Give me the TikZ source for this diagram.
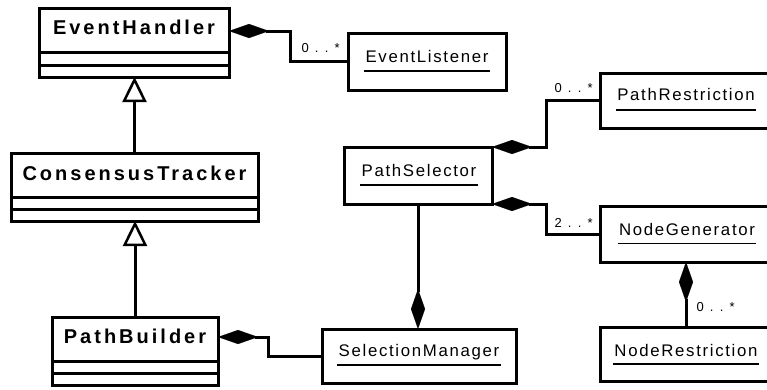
\documentclass[tikz,border=0pt]{standalone}
\usepackage{fontspec}
\setmainfont{Liberation Sans}
\newfontfamily\clsfont[LetterSpace=15]{Liberation Sans}
\newfontfamily\namefont[LetterSpace=10]{Liberation Sans}
\newfontfamily\multfont[LetterSpace=48]{Liberation Sans}
\usetikzlibrary{arrows.meta,calc}
\begin{document}
\begin{tikzpicture}[x=1pt,y=-1pt,line width=3pt,
  box/.style={draw,rectangle,inner sep=0pt,outer sep=0pt,line width=3pt,fill=white},
  bname/.style={anchor=base,inner sep=0pt,font={\clsfont\bfseries\fontsize{20}{23}\selectfont}},
  uname/.style={anchor=base,inner sep=0pt,font={\namefont\fontsize{16.8}{19}\selectfont}},
  mult/.style={anchor=base west,inner sep=0pt,font={\multfont\fontsize{13}{15}\selectfont}},
  comp/.style={{Diamond[length=40pt,width=14pt,line width=0.1pt]}-},
  compend/.style={-{Diamond[length=40pt,width=14pt,line width=0.1pt]}},
  gen/.style={-{Triangle[length=25pt,width=24pt,fill=white,line width=2.5pt]}},
  uline/.style={line width=1.5pt}]
\clip (0,0) rectangle (767,389);
\fill[white] (0,0) rectangle (767,389);

% class boxes with compartments
\node[box,minimum width=190pt,minimum height=69pt] (eh) at (134,42.5) {};
\draw (eh.west |- 0,52) -- (eh.east |- 0,52);
\draw (eh.west |- 0,65) -- (eh.east |- 0,65);
\node[bname] (ehn) at (134,34.5) {EventHandler};

\node[box,minimum width=247pt,minimum height=68pt] (ct) at (134.5,187) {};
\draw (ct.west |- 0,197) -- (ct.east |- 0,197);
\draw (ct.west |- 0,209) -- (ct.east |- 0,209);
\node[bname] (ctn) at (134.5,180) {ConsensusTracker};

\node[box,minimum width=166pt,minimum height=68pt] (pb) at (135,351) {};
\draw (pb.west |- 0,361) -- (pb.east |- 0,361);
\draw (pb.west |- 0,373) -- (pb.east |- 0,373);
\node[bname] (pbn) at (135,343) {PathBuilder};

% object boxes
\node[box,minimum width=158pt,minimum height=57pt] (el) at (427,61.5) {};
\node[uname] (eln) at (427,62) {EventListener};
\draw[uline] ([yshift=-9pt]eln.base west) -- ([yshift=-9pt]eln.base east);

\node[box,minimum width=172pt,minimum height=55pt] (pr) at (686,100.5) {};
\node[uname] (prn) at (686,100.5) {PathRestriction};
\draw[uline] ([yshift=-9.5pt]prn.base west) -- ([yshift=-9.5pt]prn.base east);

\node[box,minimum width=148pt,minimum height=57pt] (ps) at (418,175.5) {};
\node[uname] (psn) at (419,176) {PathSelector};
\draw[uline] ([yshift=-9pt]psn.base west) -- ([yshift=-9pt]psn.base east);

\node[box,minimum width=172pt,minimum height=56pt] (ng) at (686,234) {};
\node[uname] (ngn) at (687,235) {NodeGenerator};
\draw[uline] ([yshift=-8.5pt]ngn.base west) -- ([yshift=-8.5pt]ngn.base east);

\node[box,minimum width=172pt,minimum height=54pt] (nr) at (686,354) {};
\node[uname] (nrn) at (686,356) {NodeRestriction};
\draw[uline] ([yshift=-8pt]nrn.base west) -- ([yshift=-8pt]nrn.base east);

\node[box,minimum width=194pt,minimum height=54pt] (sm) at (419,356) {};
\node[uname] (smn) at (419,356) {SelectionManager};
\draw[uline] ([yshift=-9pt]smn.base west) -- ([yshift=-9pt]smn.base east);

% generalizations
\draw[gen] (ct.north) -- (ct.north |- eh.south);
\draw[gen] (pb.north) -- (pb.north |- ct.south);

% compositions
\draw[comp] ([yshift=11.5pt]eh.east) -- ++(61,0) |- (el.west);
\draw[comp] (ps.north east) -- ++(54,0) |- (pr.west);
\draw[comp] (ps.south east) -- ++(54,0) |- (ng.west);
\draw[comp] (ng.south) -- (ng.south |- nr.north);
\draw[compend] (ps.south) -- (ps.south |- sm.north);
\draw[comp] ([yshift=14pt]pb.east) -- ++(50,0) |- (sm.west);

% multiplicities
\node[mult] (m1) at (300,52) {0..*};
\node[mult] (m2) at (553,92) {0..*};
\node[mult] (m3) at (553,227) {2..*};
\node[mult] (m4) at (695,311) {0..*};
\end{tikzpicture}
\end{document}
